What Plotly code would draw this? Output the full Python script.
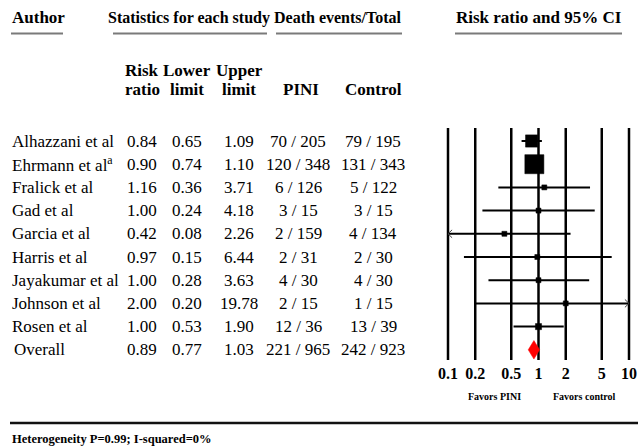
import math
import plotly.graph_objects as go

# ---------------- data ----------------
authors = ["Alhazzani et al", "Ehrmann et al<sup>a</sup>", "Fralick et al", "Gad et al",
           "Garcia et al", "Harris et al", "Jayakumar et al", "Johnson et al", "Rosen et al"]
risk_ratio = [0.84, 0.90, 1.16, 1.00, 0.42, 0.97, 1.00, 2.00, 1.00]
lower_limit = [0.65, 0.74, 0.36, 0.24, 0.08, 0.15, 0.28, 0.20, 0.53]
upper_limit = [1.09, 1.10, 3.71, 4.18, 2.26, 6.44, 3.63, 19.78, 1.90]
pini_events = [70, 120, 6, 3, 2, 2, 4, 2, 12]
pini_total = [205, 348, 126, 15, 159, 31, 30, 15, 36]
control_events = [79, 131, 5, 3, 4, 2, 4, 1, 13]
control_total = [195, 343, 122, 15, 134, 30, 30, 15, 39]
study_weights = [24, 58, 3.5, 2, 2, 1.5, 2.5, 1.2, 6]   # estimated relative weights (%)

overall_label = "Overall"
overall_rr = 0.89
overall_lower = 0.77
overall_upper = 1.03

tick_values = [0.1, 0.2, 0.5, 1, 2, 5, 10]
tick_labels = ["0.1", "0.2", "0.5", "1", "2", "5", "10"]
heterogeneity_text = "Heterogeneity P=0.99; I-squared=0%"

# ---------------- geometry helpers ----------------
W, H = 638, 447
FONT = "Liberation Serif"
ROW0_PX, ROW_STEP = 141.0, 23.2
X_MIN, X_MAX = min(tick_values), max(tick_values)


def px_x(p):
    return p / W


def px_y(p):
    return 1 - p / H


n = len(authors)
overall_row = n
fig = go.Figure()

# vertical reference lines at tick values
vx, vy = [], []
for t in tick_values:
    vx += [t, t, None]
    vy += [-0.56, overall_row + 0.44, None]
fig.add_trace(go.Scatter(x=vx, y=vy, mode="lines", line=dict(color="black", width=2.5),
                         hoverinfo="skip"))

# confidence interval lines (clipped) and arrow chevrons
cx, cy, ax, ay = [], [], [], []
for i in range(n):
    lo = max(lower_limit[i], X_MIN)
    hi = min(upper_limit[i], X_MAX)
    cx += [lo, hi, None]
    cy += [i, i, None]
    if lower_limit[i] < X_MIN:
        ax += [lo * 1.11, lo, lo * 1.11, None]
        ay += [i - 0.17, i, i + 0.17, None]
    if upper_limit[i] > X_MAX:
        ax += [hi / 1.11, hi, hi / 1.11, None]
        ay += [i - 0.17, i, i + 0.17, None]
fig.add_trace(go.Scatter(x=cx, y=cy, mode="lines", line=dict(color="black", width=2),
                         hoverinfo="skip"))
fig.add_trace(go.Scatter(x=ax, y=ay, mode="lines", line=dict(color="#444", width=1),
                         hoverinfo="skip"))

# weighted squares
sizes = [max(5, 2.5 * math.sqrt(w)) for w in study_weights]
fig.add_trace(go.Scatter(x=risk_ratio, y=list(range(n)), mode="markers",
                         marker=dict(symbol="square", size=sizes, color="black", opacity=1,
                                     line=dict(width=0.5, color="black")),
                         hoverinfo="skip"))

# overall diamond
fig.add_trace(go.Scatter(x=[overall_lower, overall_rr, overall_upper, overall_rr, overall_lower],
                         y=[overall_row, overall_row - 0.4, overall_row, overall_row + 0.4, overall_row],
                         mode="lines", fill="toself", fillcolor="#ff0000",
                         line=dict(color="#ff0000", width=0.5), hoverinfo="skip"))

# ---------------- table text ----------------
annotations = []


def txt(text, x_px, y, anchor="center", size=17, bold=False, yref="y"):
    annotations.append(dict(
        text=f"<b>{text}</b>" if bold else text,
        x=px_x(x_px), xref="paper", y=y, yref=yref,
        xanchor=anchor, yanchor="middle", showarrow=False,
        font=dict(family=FONT, size=size, color="black")))


col_rr, col_lo, col_hi, col_pini, col_ctrl = 142, 187, 239, 298, 373

for i in range(n):
    txt(authors[i], 10, i, anchor="left")
    txt(f"{risk_ratio[i]:.2f}", col_rr, i)
    txt(f"{lower_limit[i]:.2f}", col_lo, i)
    txt(f"{upper_limit[i]:.2f}", col_hi, i)
    txt(f"{pini_events[i]} / {pini_total[i]}", col_pini, i)
    txt(f"{control_events[i]} / {control_total[i]}", col_ctrl, i)

txt(overall_label, 12, overall_row, anchor="left")
txt(f"{overall_rr:.2f}", col_rr, overall_row)
txt(f"{overall_lower:.2f}", col_lo, overall_row)
txt(f"{overall_upper:.2f}", col_hi, overall_row)
txt(f"{sum(pini_events)} / {sum(pini_total)}", col_pini, overall_row)
txt(f"{sum(control_events)} / {sum(control_total)}", col_ctrl, overall_row)

# headers
txt("Author", 10, px_y(18), anchor="left", bold=True, yref="paper")
txt("Statistics for each study", 189, px_y(18), size=16, bold=True, yref="paper")
txt("Death events/Total", 338, px_y(18), size=16, bold=True, yref="paper")
txt("Risk ratio and 95% CI", 539, px_y(18), bold=True, yref="paper")

txt("Risk", col_rr, px_y(70), bold=True, yref="paper")
txt("Lower", col_lo, px_y(70), bold=True, yref="paper")
txt("Upper", col_hi, px_y(70), bold=True, yref="paper")
txt("ratio", col_rr, px_y(90), bold=True, yref="paper")
txt("limit", col_lo, px_y(90), bold=True, yref="paper")
txt("limit", col_hi, px_y(90), bold=True, yref="paper")
txt("PINI", col_pini + 3, px_y(90), bold=True, yref="paper")
txt("Control", col_ctrl, px_y(90), bold=True, yref="paper")

txt("Favors PINI", 494, px_y(396), size=10, bold=True, yref="paper")
txt("Favors control", 584, px_y(396), size=10, bold=True, yref="paper")
txt(heterogeneity_text, 10, px_y(439), anchor="left", size=12.5, bold=True, yref="paper")

# underlines and bottom rule
shapes = []
for x0, x1 in [(11, 63), (113, 267), (276, 402), (455, 622)]:
    shapes.append(dict(type="line", xref="paper", yref="paper",
                       x0=px_x(x0), x1=px_x(x1), y0=px_y(33.5), y1=px_y(33.5),
                       line=dict(color="#7a7a7a", width=2)))
shapes.append(dict(type="line", xref="paper", yref="paper",
                   x0=px_x(10), x1=1, y0=px_y(423), y1=px_y(423),
                   line=dict(color="#111", width=2.5)))

# ---------------- axes ----------------
lg_left = math.log10(X_MIN) - 448 / 90.5
lg_right = math.log10(X_MIN) + (W - 448) / 90.5
y_top = -ROW0_PX / ROW_STEP
y_bot = (H - ROW0_PX) / ROW_STEP

fig.update_layout(
    width=W, height=H,
    margin=dict(l=0, r=0, t=0, b=0, autoexpand=False),
    paper_bgcolor="white", plot_bgcolor="white",
    showlegend=False,
    annotations=annotations,
    shapes=shapes,
    xaxis=dict(type="log", range=[lg_left, lg_right], domain=[0, 1],
               anchor="free", position=px_y(362), automargin=False,
               showgrid=False, zeroline=False, showline=False, ticks="",
               tickvals=tick_values, ticktext=[f"<b>{t}</b>" for t in tick_labels],
               tickfont=dict(family=FONT, size=16, color="black")),
    yaxis=dict(range=[y_bot, y_top], domain=[0, 1], visible=False, automargin=False,
               showgrid=False, zeroline=False),
)

fig.write_html("out.html", config={"displayModeBar": False},
               post_script="document.body.style.margin='0';document.body.style.padding='0';")
